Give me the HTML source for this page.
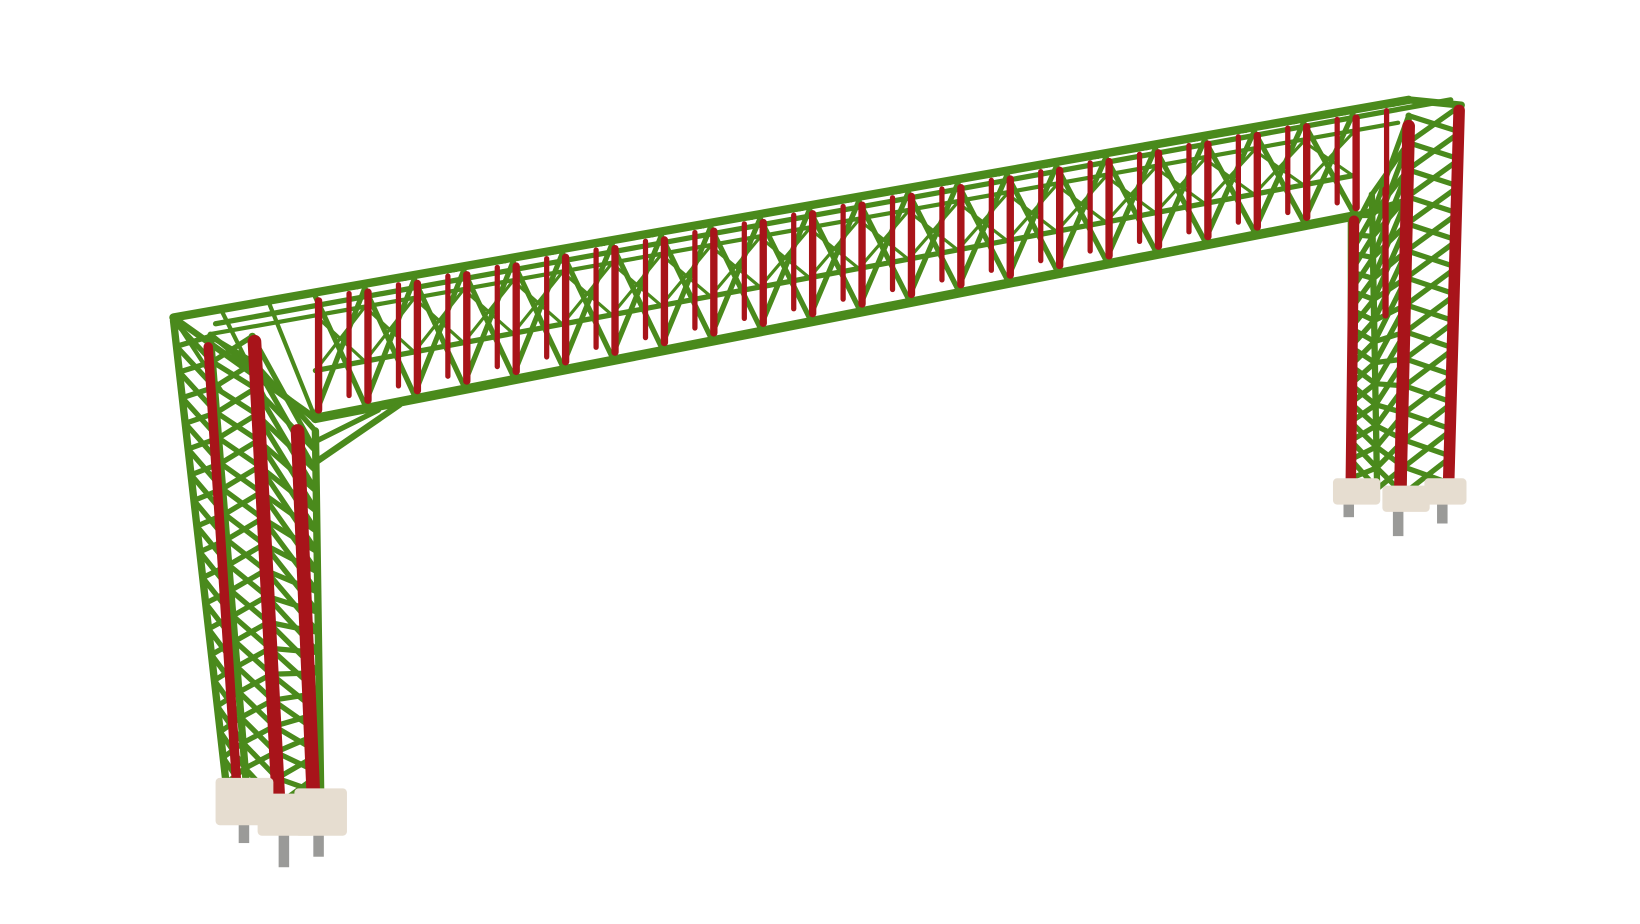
<!DOCTYPE html>
<html><head><meta charset="utf-8"><style>
html,body{margin:0;padding:0;background:#fff;width:1640px;height:924px;overflow:hidden}
svg{display:block}
</style></head><body>
<svg id="s" width="1640" height="924" viewBox="0 0 1560 879" xmlns="http://www.w3.org/2000/svg">
<g id="green" stroke="#4a8a1c" stroke-width="6" fill="none" stroke-linecap="round"></g>
<g id="red" stroke="#a8141a" stroke-width="9" fill="none" stroke-linecap="round"></g>
<g id="base"></g>
</svg>
<script>
const G=document.getElementById('green'),R=document.getElementById('red'),B=document.getElementById('base');
function ln(g,x1,y1,x2,y2,w){const l=document.createElementNS('http://www.w3.org/2000/svg','line');
l.setAttribute('x1',x1);l.setAttribute('y1',y1);l.setAttribute('x2',x2);l.setAttribute('y2',y2);
if(w)l.setAttribute('stroke-width',w);


g.appendChild(l);}
function lerp(a,b,t){return a+(b-a)*t}
function yt(x){return 302+(x-165)*(95-302)/1175}
function yb(x){return 398+(x-300)*(205-398)/990}
function ym(x){return yt(x)+(yb(x)-yt(x))*0.62}
const DX=40,DY=-8;
// chords
ln(G,165,yt(165),1340,yt(1340),8);
ln(G,165+DX,yt(165)+DY+14,1340+DX,yt(1340)+DY+8,5);
ln(G,300,yb(300),1290,yb(1290),9);
ln(G,300+DX,yb(300)+DY,1290+DX,yb(1290)+DY,5);
ln(G,300,ym(300),1290,ym(1290),5);
ln(G,200,yt(200)+22,1330,yt(1330)+20,4);
const xs=[];for(let x=300;x<=1295;x+=47)xs.push(x);
for(let i=0;i<xs.length;i++){const x=xs[i];
 ln(G,x,yt(x),x+DX,yt(x+DX)+DY+10,4);ln(G,x,yb(x),x+DX,yb(x)+DY,4);
 if(i<xs.length-1){const x2=xs[i+1];
  ln(G,x,yt(x)+4,x2,yb(x2)-4,5);ln(G,x2,yt(x2)+4,x,yb(x)-4,5);
  ln(G,x,yt(x),x2+DX,yt(x2+DX)+DY+10,4);ln(G,x+DX,yt(x+DX)+DY+10,x2,yt(x2),4);
  ln(G,x,ym(x),x2,yt(x2)+22,3);ln(G,x2,ym(x2),x,yt(x)+22,3);
 }
 ln(R,x+3,yt(x)+8,x+3,yb(x)-8,7);
 ln(R,x+DX-8,yt(x+DX)+DY+16,x+DX-8,yb(x+DX)+DY-6,5);
}
// left segment of beam above column
for(let x=165;x<300;x+=45){ln(G,x,yt(x),x+45,yb(300)-(300-x-45)*0.3,4);}
ln(G,165,302,300,398,6);ln(G,200,318,300,400,5);
// left knee brace
ln(G,300,440,380,385,6);ln(G,300,420,360,390,5);
// left column
const LC=[[165,305,215,745],[200,320,235,755],[240,320,265,765],[300,410,305,755]];
LC.forEach(c=>ln(G,c[0],c[1],c[2],c[3],7));
for(let k=0;k<18;k++){const t0=k/18,t1=(k+1)/18;
 for(let j=0;j<3;j++){const a=LC[j],b=LC[j+1];
  const p=[lerp(a[0],a[2],t0),lerp(a[1],a[3],t0)],q=[lerp(b[0],b[2],t1),lerp(b[1],b[3],t1)];
  const p2=[lerp(a[0],a[2],t1),lerp(a[1],a[3],t1)],q2=[lerp(b[0],b[2],t0),lerp(b[1],b[3],t0)];
  ln(G,p[0],p[1],q[0],q[1],5);ln(G,p2[0],p2[1],q2[0],q2[1],5);}}
ln(R,198,330,225,745,9);ln(R,242,325,265,765,13);ln(R,283,410,298,755,13);
// right column
const RC=[[1285,205,1285,455],[1305,185,1310,465],[1340,110,1335,470],[1390,100,1380,460]];
RC.forEach(c=>ln(G,c[0],c[1],c[2],c[3],6));
for(let k=0;k<14;k++){const t0=k/14,t1=(k+1)/14;
 for(let j=0;j<3;j++){const a=RC[j],b=RC[j+1];
  const p=[lerp(a[0],a[2],t0),lerp(a[1],a[3],t0)],q=[lerp(b[0],b[2],t1),lerp(b[1],b[3],t1)];
  const p2=[lerp(a[0],a[2],t1),lerp(a[1],a[3],t1)],q2=[lerp(b[0],b[2],t0),lerp(b[1],b[3],t0)];
  ln(G,p[0],p[1],q[0],q[1],5);ln(G,p2[0],p2[1],q2[0],q2[1],5);}}
ln(G,1340,95,1390,100,7);ln(G,1290,205,1340,190,6);
ln(R,1288,210,1285,455,10);ln(R,1340,120,1332,470,12);ln(R,1388,105,1378,460,11);
ln(R,1318,180,1318,300,6);
// bases
function blob(x,y,w,h){const r=document.createElementNS('http://www.w3.org/2000/svg','rect');
 r.setAttribute('x',x);r.setAttribute('y',y);r.setAttribute('width',w);r.setAttribute('height',h);
 r.setAttribute('fill','#e6ddd0');r.setAttribute('rx',4);
 
 
 B.appendChild(r);}
function peg(x,y,h){const r=document.createElementNS('http://www.w3.org/2000/svg','rect');
 r.setAttribute('x',x-5);r.setAttribute('y',y);r.setAttribute('width',10);r.setAttribute('height',h);
 r.setAttribute('fill','#9a9a98');
 
 
 B.appendChild(r);}
peg(232,770,32);peg(270,780,45);peg(303,775,40);
blob(205,740,55,45);blob(245,755,55,40);blob(280,750,50,45);
peg(1283,470,22);peg(1330,480,30);peg(1372,472,26);
blob(1268,455,45,25);blob(1315,462,45,25);blob(1355,455,40,25);
ln(R,265,760,268,770,14);ln(R,1332,468,1332,478,12);
</script>
</body></html>
